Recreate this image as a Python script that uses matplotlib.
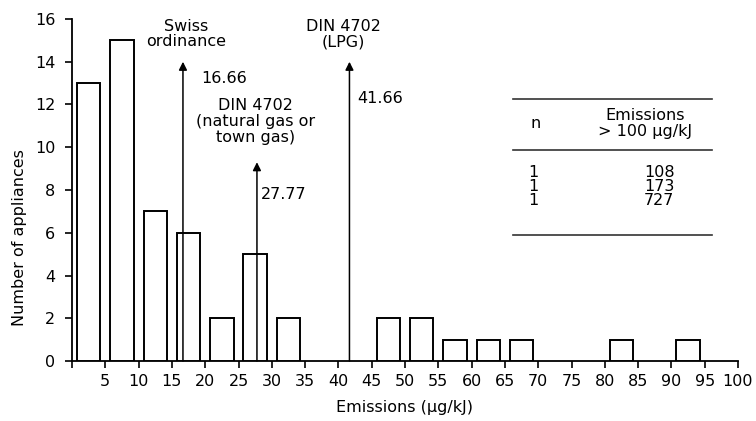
import matplotlib.pyplot as plt
import numpy as np

plt.rcParams['font.family'] = ['DejaVu Sans']

# histogram: 5 ug/kJ bins from 0 to 100
bin_centers = np.arange(2.5, 100, 5)
counts = [13, 15, 7, 6, 2, 5, 2, 0, 0, 2, 2, 1, 1, 1, 0, 0, 1, 0, 1, 0]

# limit values marked with arrows
limit_values = [16.66, 27.77, 41.66]
limit_tops = [14.0, 9.3, 14.0]
limit_labels = ["Swiss\nordinance", "DIN 4702\n(natural gas or\ntown gas)", "DIN 4702\n(LPG)"]
limit_value_text = ["16.66", "27.77", "41.66"]

# inset table of outliers
table_n = ["1", "1", "1"]
table_emissions = ["108", "173", "727"]

xticks = list(range(5, 101, 5))
yticks = list(range(0, 17, 2))

fig = plt.figure(figsize=(7.56, 4.21), dpi=100)
ax = fig.add_axes([72 / 756, 60 / 421, 666 / 756, 342 / 421])

mask = np.array(counts) > 0
ax.bar(bin_centers[mask], np.array(counts)[mask], width=3.5,
       facecolor="white", edgecolor="black", linewidth=1.4, zorder=3)

for val, top in zip(limit_values, limit_tops):
    ax.annotate("", xy=(val, top), xytext=(val, 0),
                arrowprops=dict(arrowstyle="-|>", color="black", lw=1.1,
                                mutation_scale=12, shrinkA=0, shrinkB=0),
                zorder=4)

fs = 11.5
ax.text(17.2, 15.3, limit_labels[0], ha="center", va="center", fontsize=fs, linespacing=1.05)
ax.text(19.4, 13.2, limit_value_text[0], ha="left", va="center", fontsize=fs)
ax.text(27.6, 11.2, limit_labels[1], ha="center", va="center", fontsize=fs, linespacing=1.05)
ax.text(28.3, 7.8, limit_value_text[1], ha="left", va="center", fontsize=fs)
ax.text(40.7, 15.3, limit_labels[2], ha="center", va="center", fontsize=fs, linespacing=1.05)
ax.text(42.8, 12.3, limit_value_text[2], ha="left", va="center", fontsize=fs)

# table
tx0, tx1 = 66.2, 96.1
for yl in [12.25, 9.85, 5.9]:
    ax.plot([tx0, tx1], [yl, yl], color="#333333", lw=1.2, clip_on=False)
ax.text(69.6, 11.1, "n", ha="center", va="center", fontsize=fs)
ax.text(86.0, 11.1, "Emissions\n> 100 µg/kJ", ha="center", va="center", fontsize=fs, linespacing=1.05)
for i, (n, e) in enumerate(zip(table_n, table_emissions)):
    yy = 8.8 - i * 0.65
    ax.text(69.3, yy, n, ha="center", va="center", fontsize=fs)
    ax.text(88.2, yy, e, ha="center", va="center", fontsize=fs)

ax.set_xlim(0, 100)
ax.set_ylim(0, 16)
ax.set_xticks([0] + xticks)
ax.set_xticklabels([""] + [str(t) for t in xticks], fontsize=fs)
ax.set_yticks(yticks)
ax.set_yticklabels([str(t) for t in yticks], fontsize=fs)
ax.tick_params(direction="out", length=5, width=1.2)
ax.tick_params(axis="x", pad=4)
ax.tick_params(axis="y", pad=7)
for s in ["top", "right"]:
    ax.spines[s].set_visible(False)
for s in ["left", "bottom"]:
    ax.spines[s].set_linewidth(1.3)

ax.set_xlabel("Emissions (µg/kJ)", fontsize=fs)
ax.xaxis.set_label_coords(0.5, -0.115)
ax.set_ylabel("Number of appliances", fontsize=fs)
ax.yaxis.set_label_coords(-0.068, 0.36)

fig.savefig("out.png", dpi=100)
